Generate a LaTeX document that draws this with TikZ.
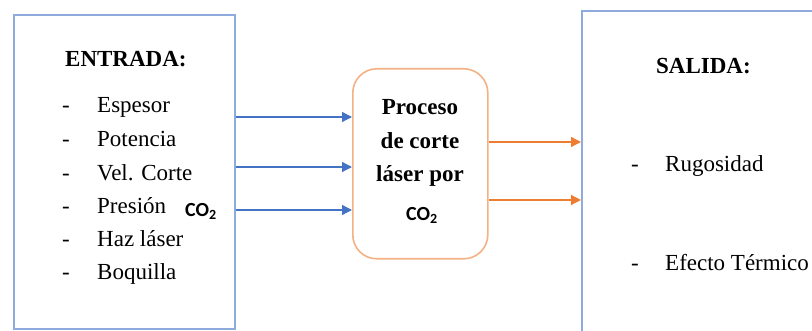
\documentclass[tikz,border=0pt]{standalone}
\usepackage{fontspec}
\setmainfont{Liberation Serif}
\newfontfamily\calfont{Carlito}
\usetikzlibrary{arrows.meta}
\definecolor{boxblue}{HTML}{8FAADC}
\definecolor{arrblue}{HTML}{4472C4}
\definecolor{boxorange}{HTML}{F4B183}
\definecolor{arrorange}{HTML}{ED7D31}
\newcommand{\cotwo}{{\calfont\bfseries CO{\fontsize{14}{14}\selectfont\raisebox{-2.5pt}{2}}}}
\tikzset{
  x=1pt, y=-1pt,
  panel/.style={draw=boxblue, line width=1.6pt, inner sep=0pt, anchor=north west},
  procbox/.style={draw=boxorange, line width=1.6pt, rounded corners=24pt, inner sep=0pt, anchor=north west,
    minimum width=135pt, minimum height=190pt},
  txt/.style={anchor=base west, inner sep=0pt, font=\fontsize{23}{27}\selectfont},
  head/.style={txt, font=\fontsize{23}{27}\selectfont\bfseries},
  ptxt/.style={anchor=base, inner sep=0pt, font=\fontsize{23}{27}\selectfont\bfseries},
  co/.style={anchor=base west, inner sep=0pt, font=\fontsize{20}{22}\selectfont},
  inarrow/.style={draw=arrblue, line width=1.3pt, -{Triangle[length=10pt,width=10pt]}},
  outarrow/.style={draw=arrorange, line width=1.3pt, -{Triangle[length=10pt,width=10pt]}},
}
\begin{document}
\begin{tikzpicture}
\useasboundingbox (0,0) rectangle (812,331);
\clip (0,0) rectangle (812,331);

% input panel
\node[panel, minimum width=221pt, minimum height=314pt] (entrada) at (13,14) {};
\node[head] (eh) at (65,67) {ENTRADA:};
\foreach \y/\t/\n in {113/Espesor/a, 147/Potencia/b, 181/Vel. Corte/c, 214/Presión/d, 247/Haz láser/e, 280/Boquilla/f}{
  \node[txt] (dash\n) at (62,\y) {-};
  \node[txt] (item\n) at (97,\y) {\t};
}
\node[co] (coin) at (185,217) {\cotwo};

% process box
\node[procbox] (proc) at (352,68) {};
\node[ptxt] (p1) at (420,115) {Proceso};
\node[ptxt] (p2) at (420,149) {de corte};
\node[ptxt] (p3) at (420,182) {láser por};
\node[co] (cop) at (406,221) {\cotwo};

% output panel (runs past the right and bottom edges)
\node[panel, minimum width=260pt, minimum height=340pt] (salida) at (581,10) {};
\node[head] (sh) at (656,74) {SALIDA:};
\node[txt] (dashr) at (631,172) {-};
\node[txt] (rug) at (665,172) {Rugosidad};
\node[txt] (dashe) at (631,271) {-};
\node[txt] (efe) at (665,271) {Efecto Térmico};

% inputs into the process
\foreach \y in {117,167,210}
  \draw[inarrow] (entrada.east |- 0,\y) -- (proc.west |- 0,\y);
% process outputs
\foreach \y in {142,200}
  \draw[outarrow] (proc.east |- 0,\y) -- (salida.west |- 0,\y);
\end{tikzpicture}
\end{document}
